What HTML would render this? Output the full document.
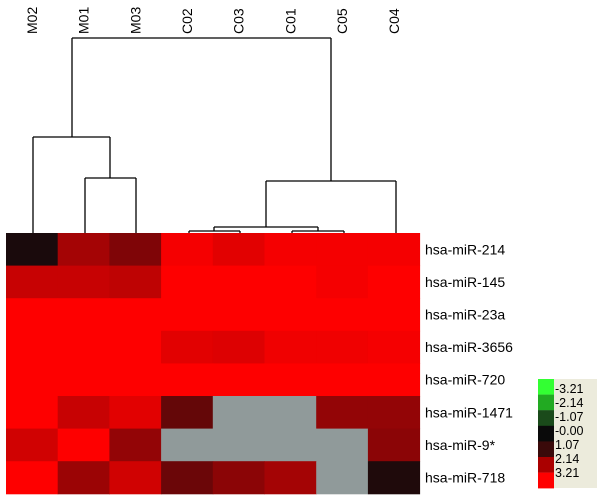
<!DOCTYPE html>
<html><head><meta charset="utf-8"><style>
body{margin:0;background:#fff;width:602px;height:499px;overflow:hidden}
svg{display:block;font-family:"Liberation Sans",sans-serif}
</style></head><body>
<svg id="chart" width="602" height="499" viewBox="0 0 602 499"></svg>
<script>
const samples=["M02","M01","M03","C02","C03","C01","C05","C04"];
const genes=["hsa-miR-214","hsa-miR-145","hsa-miR-23a","hsa-miR-3656","hsa-miR-720","hsa-miR-1471","hsa-miR-9*","hsa-miR-718"];
const rowVals=[
[0.2,2.2,1.75,3.1,2.9,3.1,3.1,3.1],
[2.6,2.6,2.5,3.2,3.2,3.2,3.1,3.2],
[3.2,3.2,3.2,3.2,3.2,3.2,3.2,3.2],
[3.2,3.2,3.2,2.9,2.85,3.05,3.05,3.1],
[3.2,3.2,3.2,3.2,3.2,3.2,3.2,3.2],
[3.2,2.6,2.9,1.4,null,null,2.0,2.0],
[2.7,3.2,2.0,null,null,null,null,1.9],
[3.2,2.1,2.7,1.5,1.9,2.2,null,0.3]];
const legendTicks=["-3.21","-2.14","-1.07","-0.00","1.07","2.14","3.21"];
const NS="http://www.w3.org/2000/svg";
const svg=document.getElementById('chart');
const x0=6,cw=51.7,y0=233,rh=32.6,maxV=3.21;
const xc=i=>x0+i*cw, yr=j=>y0+j*rh;
function color(v){if(v===null)return "#909a9a";const t=Math.pow(Math.min(1,Math.abs(v)/maxV),1.3);
 const c=Math.round(20+t*235);return v>=0?`rgb(${c},${Math.round(10*(1-t))},${Math.round(12*(1-t))})`:`rgb(0,${c},0)`;}
function mk(tag,attrs){const e=document.createElementNS(NS,tag);for(const k in attrs)e.setAttribute(k,attrs[k]);svg.appendChild(e);return e;}
rowVals.forEach((row,j)=>row.forEach((v,i)=>{
 const r=mk('rect',{x:xc(i),y:yr(j),width:cw+0.5,height:rh+0.5,fill:color(v)});
 
 
}));
samples.forEach((s,i)=>{
 const cx=xc(i)+cw/2+5;
 const t=mk('text',{x:0,y:0,transform:`translate(${cx},34) rotate(-90)`,'font-size':14});
 t.textContent=s;
 
 
});
genes.forEach((g,j)=>{
 const t=mk('text',{x:425,y:yr(j)+rh/2+5,'font-size':14});
 t.textContent=g;
 
 
});
const segs=[[72,38,331,38],[72,38,72,137],[33,137,110,137],[33,137,33,233],[110,137,110,178],[85,178,136,178],[85,178,85,233],[136,178,136,233],
[331,38,331,181],[266,181,396,181],[396,181,396,233],[266,181,266,227],[214,227,318,227],[214,227,214,231],[318,227,318,231],
[189,231,240,231],[189,231,189,233],[240,231,240,233],[292,231,344,231],[292,231,292,233],[344,231,344,233]];
const dg=document.createElementNS(NS,'g');svg.appendChild(dg);


segs.forEach(s=>{const l=document.createElementNS(NS,'line');
 l.setAttribute('x1',s[0]);l.setAttribute('y1',s[1]);l.setAttribute('x2',s[2]);l.setAttribute('y2',s[3]);
 l.setAttribute('stroke','#000');l.setAttribute('stroke-width','1.3');dg.appendChild(l);});
const bg=mk('rect',{x:554,y:379,width:43,height:109,fill:'#ecebdc'});


const legCols=["#33ff33","#22aa22","#1a4a1a","#0a0a0a","#3a0a0a","#aa0000","#ff0000"];
legCols.forEach((c,k)=>{const r=mk('rect',{x:538,y:379+k*15.6,width:16,height:15.8,fill:c});
 
 });
legendTicks.forEach((s,k)=>{const t=mk('text',{x:555,y:393+k*14,'font-size':12.5});t.textContent=s;
 
 });
</script>
</body></html>
